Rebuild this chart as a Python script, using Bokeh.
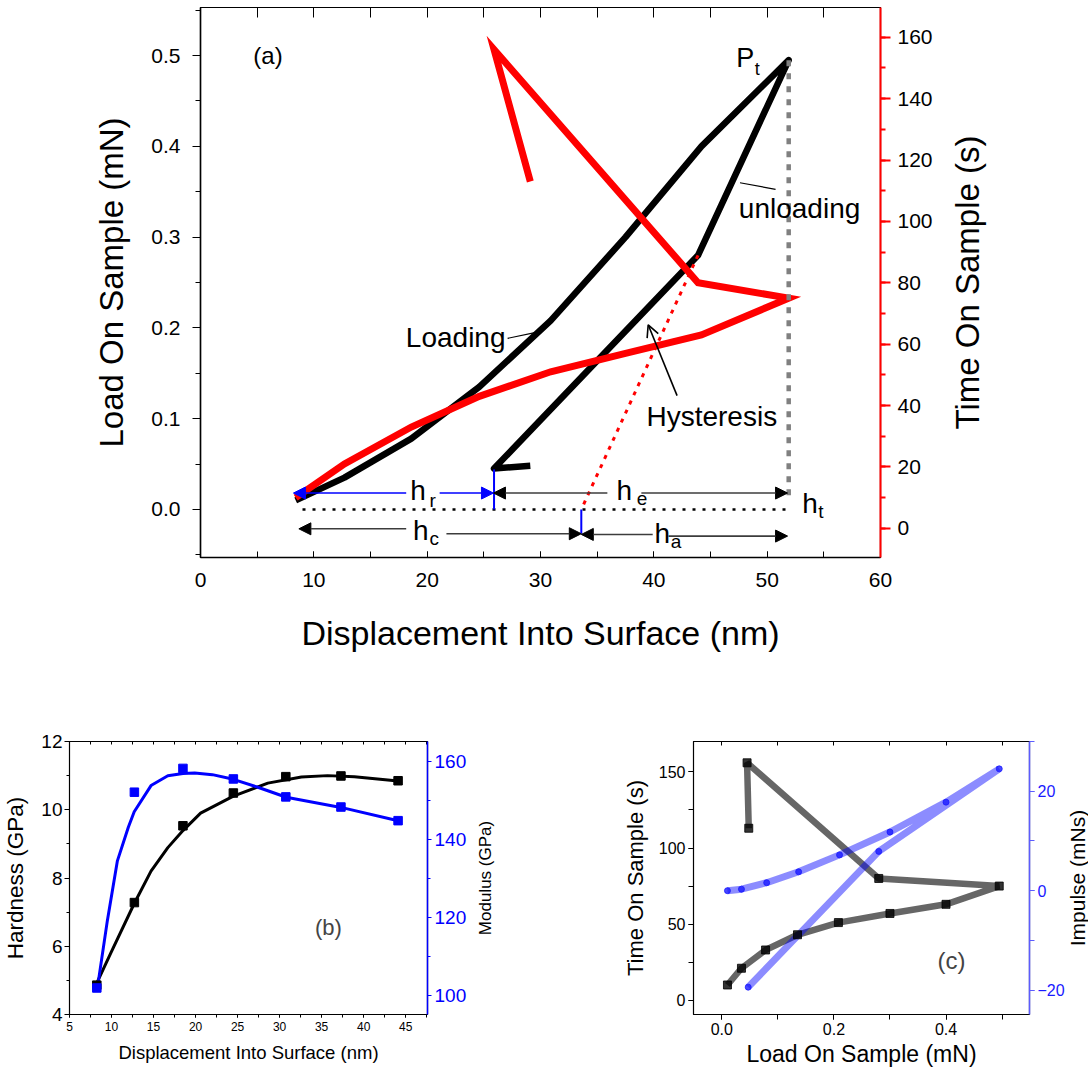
from bokeh.plotting import figure
from bokeh.models import (Range1d, LinearAxis, SingleIntervalTicker, Label, Arrow, FixedTicker,
                          NormalHead, OpenHead, NumeralTickFormatter, CustomJSTickFormatter)
from bokeh.layouts import column, row
from bokeh.embed import file_html
from bokeh.resources import INLINE

FONT = "Liberation Sans"

# ---------------- data ----------------
# panel (a) / (c): one indentation cycle (loading -> peak -> unloading)
disp_nm = [8.4, 12.7, 18.6, 24.6, 30.9, 37.5, 44.2, 51.9, 43.9, 25.9, 29.1]
load_mN = [0.01, 0.035, 0.078, 0.135, 0.208, 0.30, 0.40, 0.495, 0.28, 0.045, 0.048]
time_s = [10, 21, 33, 43, 51, 57, 63, 75, 80, 156, 113]
# panel (c): impulse
impulse_load = [0.01, 0.035, 0.08, 0.137, 0.21, 0.30, 0.40, 0.495, 0.28, 0.047]
impulse_mNs = [0.0, 0.3, 1.6, 3.8, 7.2, 11.8, 17.8, 24.5, 7.9, -19.4]
# panel (b): hardness / modulus vs depth
depth_nm = [8.25, 12.72, 18.5, 24.5, 30.74, 37.3, 44.1]
hardness_GPa = [4.86, 7.28, 9.53, 10.49, 10.97, 10.99, 10.85]
modulus_GPa = [101.8, 152.0, 158.1, 155.4, 150.8, 148.2, 144.7]
hard_fit_x = [8.3, 9.95, 12.72, 14.7, 16.7, 18.5, 20.6, 24.5, 28.6, 32.6, 35.7, 38.9, 44.1]
hard_fit_y = [4.95, 5.82, 7.26, 8.2, 8.89, 9.39, 9.9, 10.4, 10.78, 10.96, 11.0, 10.97, 10.84]
mod_fit_x = [8.3, 9.5, 10.7, 12.0, 12.7, 14.7, 16.7, 18.5, 19.9, 22.0, 24.5, 27.5, 30.8, 37.3, 44.1]
mod_fit_y = [101.5, 119, 134.4, 143.0, 147, 153.7, 156.2, 156.8, 156.9, 156.5, 155.3, 153.2, 150.7, 148.1, 144.7]

# annotations of panel (a): text, x (nm), y (mN), font px
a_labels = [
    ("(a)", 4.66, 0.500, 24),
    ("P", 47.27, 0.497, 27), ("t", 48.9, 0.4856, 18),
    ("unloading", 47.5, 0.3315, 28),
    ("Loading", 18.12, 0.1894, 28),
    ("Hysteresis", 39.35, 0.102, 28),
    ("h", 18.5, 0.0207, 28), ("r", 20.2, 0.0097, 19),
    ("h", 36.7, 0.0207, 28), ("e", 38.5, 0.0117, 19),
    ("h", 53.1, 0.0067, 28), ("t", 54.5, -0.0027, 19),
    ("h", 18.75, -0.0228, 28), ("c", 20.2, -0.0319, 19),
    ("h", 40.06, -0.0263, 28), ("a", 41.5, -0.0353, 19),
]
# dimension arrows: x_start, y_start, x_end(head), y_end, colour
a_arrows = [
    (18.15, 0.018, 8.2, 0.018, "blue"), (21.1, 0.018, 25.85, 0.018, "blue"),
    (35.9, 0.018, 25.85, 0.018, "black"), (38.9, 0.018, 51.8, 0.018, "black"),
    (18.15, -0.0214, 8.68, -0.0214, "black"), (21.7, -0.0268, 33.6, -0.0268, "black"),
    (39.9, -0.0276, 33.6, -0.0276, "black"), (41.3, -0.0294, 51.8, -0.0294, "black"),
]


def style_axis(ax, tick_px, label_px, color="black", tick_label_color="black",
               label_color="black"):
    ax.major_label_text_font = FONT
    ax.major_label_text_font_size = f"{tick_px}px"
    ax.major_label_text_color = tick_label_color
    ax.axis_label_text_font = FONT
    ax.axis_label_text_font_size = f"{label_px}px"
    ax.axis_label_text_font_style = "normal"
    ax.axis_label_text_color = label_color
    ax.axis_line_color = color
    ax.major_tick_line_color = color
    ax.minor_tick_line_color = color


def blank_top(ax_interval, tick_in):
    return LinearAxis(ticker=SingleIntervalTicker(interval=ax_interval, num_minor_ticks=0),
                      formatter=CustomJSTickFormatter(code="return ''"),
                      major_label_text_font_size="0px", major_label_standoff=0,
                      major_tick_in=tick_in, major_tick_out=0,
                      minor_tick_in=0, minor_tick_out=0, axis_line_color="black")


def base_fig(**kw):
    p = figure(output_backend="svg", toolbar_location=None, **kw)
    p.grid.visible = False
    p.outline_line_color = "black"
    p.outline_line_width = 1.2
    p.background_fill_color = "white"
    p.border_fill_color = "white"
    return p


def title_strip(text, size, width, height, left, standoff, top, bottom):
    """narrow blank figure whose left-axis title serves as the right-hand
    axis title (reading bottom-to-top) of the panel before it"""
    f = figure(width=width, height=height, x_range=Range1d(0, 1), y_range=Range1d(0, 1),
               x_axis_location=None, output_backend="svg", toolbar_location=None,
               min_border_left=left, min_border_right=0, min_border_top=top,
               min_border_bottom=bottom)
    f.outline_line_color = None
    f.grid.visible = False
    f.background_fill_color = "white"
    f.border_fill_color = "white"
    ax = f.yaxis[0]
    ax.ticker = FixedTicker(ticks=[])
    ax.major_label_text_font_size = "0px"
    ax.major_tick_in = ax.major_tick_out = 0
    ax.minor_tick_in = ax.minor_tick_out = 0
    ax.axis_line_color = None
    ax.axis_label = text
    ax.axis_label_text_font = FONT
    ax.axis_label_text_font_size = f"{size}px"
    ax.axis_label_text_font_style = "normal"
    ax.axis_label_text_color = "black"
    ax.axis_label_standoff = standoff
    return f


# ---------------- panel (a) ----------------
pa = base_fig(width=940, height=657, x_range=Range1d(0, 60), y_range=Range1d(-0.053, 0.553),
              min_border_left=200, min_border_right=60, min_border_top=7, min_border_bottom=100)
pa.extra_y_ranges = {"time": Range1d(-9.5, 169.7)}

xb = pa.below[0]
xb.ticker = SingleIntervalTicker(interval=10, num_minor_ticks=2)
style_axis(xb, 21, 34)
xb.axis_label = "Displacement Into Surface (nm)"
xb.major_tick_in, xb.major_tick_out = 6, 0
xb.minor_tick_in, xb.minor_tick_out = 6, 0
xb.major_label_standoff = 15
xb.axis_label_standoff = 24
xb.axis_line_width = 1.5

yl = pa.left[0]
yl.ticker = SingleIntervalTicker(interval=0.1, num_minor_ticks=2)
yl.formatter = NumeralTickFormatter(format="0.0")
style_axis(yl, 21, 33)
yl.axis_label = "Load On Sample (mN)"
yl.major_tick_in, yl.major_tick_out = 0, 8
yl.minor_tick_in, yl.minor_tick_out = 0, 5
yl.major_label_standoff = 12
yl.axis_label_standoff = 18
yl.axis_line_width = 1.5

yr = LinearAxis(y_range_name="time", ticker=SingleIntervalTicker(interval=20, num_minor_ticks=2))
style_axis(yr, 21, 33, color="red")
yr.major_tick_in, yr.major_tick_out = 0, 10
yr.minor_tick_in, yr.minor_tick_out = 0, 5
yr.major_label_standoff = 7
yr.axis_line_width = 2
yr.major_tick_line_width = 2
yr.minor_tick_line_width = 2
pa.add_layout(yr, "right")
pa.add_layout(blank_top(5, 10), "above")

# curves
pa.line(disp_nm, load_mN, line_color="black", line_width=6.5, line_join="round")
pa.line(disp_nm, time_s, y_range_name="time", line_color="red", line_width=7, line_join="miter")

# construction lines
peak = load_mN.index(max(load_mN))
pa.line([disp_nm[peak], disp_nm[peak]], [load_mN[peak], 0.013], line_color="gray",
        line_width=4.5, line_dash="6 7")
pa.line([9.0, disp_nm[peak]], [0.0, 0.0], line_color="black", line_width=2.5, line_dash="3 7")
pa.line([disp_nm[peak + 1], 33.6], [load_mN[peak + 1], 0.0], line_color="red",
        line_width=3, line_dash="4 6")
pa.line([disp_nm[9], disp_nm[9]], [0.044, 0.0], line_color="blue", line_width=2)
pa.line([33.6, 33.6], [0.0, -0.0268], line_color="blue", line_width=2)

for x0, y0, x1, y1, c in a_arrows:
    lc = "blue" if c == "blue" else "#3c3c3c"
    pa.add_layout(Arrow(x_start=x0, y_start=y0, x_end=x1, y_end=y1,
                        line_color=lc, line_width=1.6,
                        end=NormalHead(size=12, fill_color=c, line_color=c, line_width=1)))
# leader lines + hysteresis arrow
pa.add_layout(Arrow(x_start=27.1, y_start=0.1885, x_end=29.5, y_end=0.1948,
                    line_color="black", line_width=1.2, end=None))
pa.add_layout(Arrow(x_start=47.6, y_start=0.3599, x_end=50.74, y_end=0.3526,
                    line_color="black", line_width=1.2, end=None))
pa.add_layout(Arrow(x_start=42.05, y_start=0.1254, x_end=39.5, y_end=0.2034,
                    line_color="black", line_width=1.6,
                    end=OpenHead(size=12, line_color="black", line_width=1.6)))

for t, x, y, s in a_labels:
    pa.add_layout(Label(x=x, y=y, text=t, text_font=FONT, text_font_size=f"{s}px",
                        text_color="black", text_baseline="alphabetic", text_align="left"))

fa_lab = title_strip("Time On Sample (s)", 33, width=70, height=657, left=50, standoff=5,
                     top=7, bottom=100)

# ---------------- panel (b) ----------------
pb = base_fig(width=469, height=412, x_range=Range1d(5, 47.6), y_range=Range1d(4, 12),
              min_border_left=68, min_border_right=42, min_border_top=81, min_border_bottom=52)
pb.extra_y_ranges = {"mod": Range1d(95, 165)}

bx = pb.below[0]
bx.ticker = SingleIntervalTicker(interval=5, num_minor_ticks=2)
style_axis(bx, 12, 18.5)
bx.axis_label = "Displacement Into Surface (nm)"
bx.major_tick_in, bx.major_tick_out = 0, 3
bx.minor_tick_in, bx.minor_tick_out = 0, 3
bx.major_label_standoff = 4
bx.axis_label_standoff = 8

byl = pb.left[0]
byl.ticker = SingleIntervalTicker(interval=2, num_minor_ticks=2)
style_axis(byl, 19, 22.5)
byl.axis_label = "Hardness (GPa)"
byl.major_tick_in, byl.major_tick_out = 0, 5
byl.minor_tick_in, byl.minor_tick_out = 0, 3
byl.major_label_standoff = 2
byl.axis_label_standoff = 10

byr = LinearAxis(y_range_name="mod", ticker=SingleIntervalTicker(interval=20, num_minor_ticks=2))
style_axis(byr, 19, 15.5, color="blue", tick_label_color="blue")
byr.major_tick_in, byr.major_tick_out = 0, 4
byr.minor_tick_in, byr.minor_tick_out = 0, 3
byr.major_label_standoff = 3
byr.axis_line_width = 1.5
pb.add_layout(byr, "right")
pb.add_layout(blank_top(2.5, 3), "above")

pb.line(hard_fit_x, hard_fit_y, line_color="black", line_width=3)
pb.line(mod_fit_x, mod_fit_y, y_range_name="mod", line_color="blue", line_width=3)
pb.scatter(depth_nm, hardness_GPa, marker="square", size=8.5, color="black")
pb.scatter(depth_nm, modulus_GPa, y_range_name="mod", marker="square", size=8.5, color="blue")
pb.add_layout(Label(x=35.8, y=6.55, text="(b)", text_font=FONT, text_font_size="22px",
                    text_align="center", text_baseline="middle"))

fb_lab = title_strip("Modulus (GPa)", 17, width=32, height=412, left=27, standoff=2,
                     top=81, bottom=52)

# ---------------- panel (c) ----------------
pc = base_fig(width=566, height=412, x_range=Range1d(-0.0506, 0.549), y_range=Range1d(-9.4, 170),
              min_border_left=192, min_border_right=34, min_border_top=84, min_border_bottom=52)
pc.extra_y_ranges = {"imp": Range1d(-24.9, 30.0)}

cx = pc.below[0]
cx.ticker = SingleIntervalTicker(interval=0.2, num_minor_ticks=2)
cx.formatter = NumeralTickFormatter(format="0.0")
style_axis(cx, 16, 23)
cx.axis_label = "Load On Sample (mN)"
cx.major_tick_in, cx.major_tick_out = 0, 5
cx.minor_tick_in, cx.minor_tick_out = 0, 5
cx.major_label_standoff = 3
cx.axis_label_standoff = 3

cyl = pc.left[0]
cyl.ticker = SingleIntervalTicker(interval=50, num_minor_ticks=2)
style_axis(cyl, 16, 22)
cyl.axis_label = "Time On Sample (s)"
cyl.major_tick_in, cyl.major_tick_out = 0, 5
cyl.minor_tick_in, cyl.minor_tick_out = 0, 5
cyl.major_label_standoff = 3
cyl.axis_label_standoff = 8

cyr = LinearAxis(y_range_name="imp", ticker=SingleIntervalTicker(interval=20, num_minor_ticks=2))
style_axis(cyr, 16, 22, color="#5c5cff", tick_label_color="#1a1aff")
cyr.major_tick_in, cyr.major_tick_out = 0, 5
cyr.minor_tick_in, cyr.minor_tick_out = 0, 5
cyr.major_label_standoff = 3
cyr.axis_line_width = 1.5
pc.add_layout(cyr, "right")
pc.add_layout(blank_top(0.1, 4), "above")

pc.line(load_mN, time_s, line_color="black", line_alpha=0.6, line_width=6.5)
pc.line(impulse_load, impulse_mNs, y_range_name="imp", line_color="blue", line_alpha=0.45,
        line_width=7)
pc.scatter(load_mN, time_s, marker="square", size=8, color="black", alpha=0.8)
pc.scatter(impulse_load, impulse_mNs, y_range_name="imp", marker="circle", size=6,
           color="#1a1aff", alpha=0.8)
pc.add_layout(Label(x=0.41, y=26.2, text="(c)", text_font=FONT, text_font_size="24px",
                    text_align="center", text_baseline="middle"))

fc_lab = title_strip("Impulse (mNs)", 21, width=21, height=412, left=19, standoff=0,
                     top=84, bottom=52)

layout = column(row(pa, fa_lab), row(pb, fb_lab, pc, fc_lab))
open("out.html", "w").write(file_html(layout, INLINE))
